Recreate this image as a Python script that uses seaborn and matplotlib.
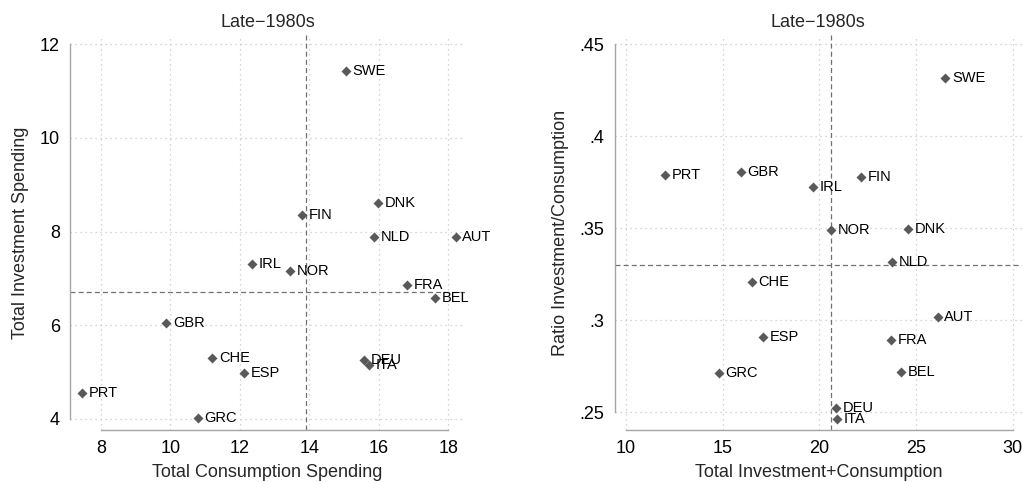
import matplotlib
matplotlib.use("Agg")
import matplotlib.pyplot as plt
import seaborn as sns
import pandas as pd

countries = ["SWE", "DNK", "FIN", "NLD", "AUT", "IRL", "NOR", "FRA", "BEL",
             "GBR", "CHE", "DEU", "ITA", "ESP", "PRT", "GRC"]
consumption = [15.05, 15.98, 13.78, 15.85, 18.21, 12.35, 13.44, 16.82, 17.62,
               9.88, 11.20, 15.57, 15.72, 12.11, 7.45, 10.79]
investment = [11.44, 8.60, 8.36, 7.88, 7.88, 7.31, 7.16, 6.86, 6.59,
              6.05, 5.30, 5.25, 5.15, 4.98, 4.54, 4.02]
total = [26.52, 24.60, 22.17, 23.76, 26.12, 19.67, 20.62, 23.72, 24.24,
         15.93, 16.50, 20.88, 20.90, 17.10, 12.00, 14.81]
ratio = [0.4317, 0.3495, 0.3777, 0.3319, 0.3016, 0.3723, 0.3491, 0.2893, 0.2720,
         0.3806, 0.3208, 0.2522, 0.2466, 0.2911, 0.3788, 0.2714]

left_vline, left_hline = 13.90, 6.70
right_vline, right_hline = 20.62, 0.330

left_xticks = [8, 10, 12, 14, 16, 18]
left_yticks = [4, 6, 8, 10, 12]
right_xticks = [10, 15, 20, 25, 30]
right_yticks = [0.25, 0.30, 0.35, 0.40, 0.45]
right_yticklabels = [".25", ".3", ".35", ".4", ".45"]

title = "Late\u22121980s"

df = pd.DataFrame({"country": countries, "cons": consumption, "inv": investment,
                   "total": total, "ratio": ratio})

sns.set_style("white")
plt.rcParams["font.family"] = ["Liberation Sans", "DejaVu Sans"]

fig = plt.figure(figsize=(10.22, 4.82), dpi=100)
axL = fig.add_axes([70/1022, 52/482, 395/1022, 395/482])
axR = fig.add_axes([614.7/1022, 52/482, 407.3/1022, 395/482])

axis_col = "#a6a6a6"
marker_col = "#595959"
grid_col = "#c8c8c8"
ref_col = "#707070"
FS = 13

sns.scatterplot(data=df, x="cons", y="inv", ax=axL, marker="D", s=26,
                color=marker_col, edgecolor=marker_col, linewidth=0, zorder=3)
sns.scatterplot(data=df, x="total", y="ratio", ax=axR, marker="D", s=26,
                color=marker_col, edgecolor=marker_col, linewidth=0, zorder=3)


def style(ax, xticks, yticks, xlim, ylim, xlabel, ylabel, yticklabels=None):
    ax.set_xlim(*xlim)
    ax.set_ylim(*ylim)
    ax.set_xticks(xticks)
    ax.set_yticks(yticks)
    ax.set_xticklabels([str(t) for t in xticks])
    if yticklabels is None:
        yticklabels = [str(t) for t in yticks]
    ax.set_yticklabels(yticklabels)
    for s in ["top", "right"]:
        ax.spines[s].set_visible(False)
    for s in ["left", "bottom"]:
        ax.spines[s].set_color(axis_col)
        ax.spines[s].set_linewidth(1.0)
    ax.tick_params(axis="both", which="both", direction="out", length=4.3,
                   width=1.0, color=axis_col, labelsize=FS, pad=3, labelcolor="black")
    ax.grid(True, linestyle=(0, (1, 3)), color=grid_col, linewidth=0.9)
    ax.set_axisbelow(True)
    ax.set_xlabel(xlabel, fontsize=FS, labelpad=5)
    ax.set_ylabel(ylabel, fontsize=FS, labelpad=7.5)
    ax.set_title(title, fontsize=FS, pad=6)
    ax.spines["left"].set_bounds(yticks[0], yticks[-1])
    ax.spines["bottom"].set_bounds(xticks[0], xticks[-1])


style(axL, left_xticks, left_yticks, (7.107, 18.48), (3.76, 12.2),
      "Total Consumption Spending", "Total Investment Spending")
style(axR, right_xticks, right_yticks, (9.415, 30.48), (0.2404, 0.455),
      "Total Investment+Consumption", "Ratio Investment/Consumption",
      right_yticklabels)

dash = (0, (4, 2.5))
axL.axvline(left_vline, color=ref_col, linestyle=dash, linewidth=0.9)
axL.axhline(left_hline, color=ref_col, linestyle=dash, linewidth=0.9)
axR.axvline(right_vline, color=ref_col, linestyle=dash, linewidth=0.9)
axR.axhline(right_hline, color=ref_col, linestyle=dash, linewidth=0.9)

for c, x, y in zip(countries, consumption, investment):
    axL.annotate(c, (x, y), xytext=(4.8, 0), textcoords="offset points",
                 ha="left", va="center", fontsize=10.5, color="black", zorder=4)
for c, x, y in zip(countries, total, ratio):
    axR.annotate(c, (x, y), xytext=(4.8, 0), textcoords="offset points",
                 ha="left", va="center", fontsize=10.5, color="black", zorder=4)

fig.savefig("out.png", dpi=100)
